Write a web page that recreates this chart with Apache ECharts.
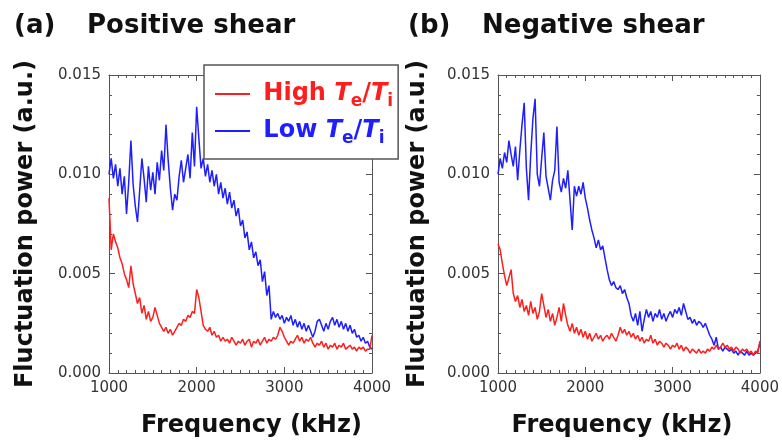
<!DOCTYPE html>
<html><head><meta charset="utf-8">
<script src="https://cdn.jsdelivr.net/npm/echarts@6/dist/echarts.min.js"></script>
<style>html,body{margin:0;padding:0;background:#fff;}#c{width:782px;height:443px;}</style>
</head><body><div id="c"></div>
<script>
// Frequency grid (kHz)
const freq = [1000,1025,1050,1075,1100,1125,1150,1175,1200,1225,1250,1275,1300,1325,1350,1375,1400,1425,1450,1475,
1500,1525,1550,1575,1600,1625,1650,1675,1700,1725,1750,1775,1800,1825,1850,1875,1900,1925,1950,1975,
2000,2025,2050,2075,2100,2125,2150,2175,2200,2225,2250,2275,2300,2325,2350,2375,2400,2425,2450,2475,
2500,2525,2550,2575,2600,2625,2650,2675,2700,2725,2750,2775,2800,2825,2850,2875,2900,2925,2950,2975,
3000,3025,3050,3075,3100,3125,3150,3175,3200,3225,3250,3275,3300,3325,3350,3375,3400,3425,3450,3475,
3500,3525,3550,3575,3600,3625,3650,3675,3700,3725,3750,3775,3800,3825,3850,3875,3900,3925,3950,3975,4000];

// (a) Positive shear
const posLow = [0.0100,0.0108,0.0098,0.0105,0.0094,0.0103,0.0090,0.0099,0.0080,0.0096,
0.0117,0.0095,0.0084,0.0076,0.0092,0.0108,0.0098,0.0086,0.0104,0.0092,
0.0101,0.0090,0.0106,0.0097,0.0112,0.0102,0.0125,0.0107,0.0093,0.0082,
0.0090,0.0087,0.0099,0.0107,0.0096,0.0103,0.0110,0.0098,0.0121,0.0104,
0.0134,0.0118,0.0103,0.0108,0.0099,0.0105,0.0096,0.0102,0.0094,0.0100,
0.0090,0.0096,0.0088,0.0093,0.0085,0.0091,0.0083,0.0087,0.0079,0.0083,
0.0074,0.0077,0.0068,0.0071,0.0062,0.0066,0.0058,0.0061,0.0054,0.0057,
0.0046,0.0051,0.0039,0.0044,0.0027,0.0031,0.0028,0.0030,0.0027,0.0029,
0.0025,0.0028,0.0026,0.0029,0.0024,0.0027,0.0023,0.0026,0.0022,0.0025,
0.0021,0.0024,0.0021,0.0018,0.0021,0.0026,0.0027,0.0024,0.0021,0.0025,
0.0022,0.0026,0.0028,0.0024,0.0027,0.0023,0.0026,0.0022,0.0025,0.0021,
0.0024,0.0020,0.0022,0.0018,0.0019,0.0016,0.0018,0.0015,0.0016,0.0013,0.0012];
const posHigh = [0.0088,0.0062,0.0070,0.0066,0.0063,0.0058,0.0055,0.0050,0.0047,0.0043,
0.0054,0.0045,0.0040,0.0035,0.0038,0.0030,0.0034,0.0027,0.0031,0.0026,
0.0028,0.0033,0.0029,0.0025,0.0023,0.0021,0.0023,0.0020,0.0022,0.0019,
0.0021,0.0023,0.0025,0.0024,0.0027,0.0026,0.0029,0.0028,0.0031,0.0030,
0.0042,0.0038,0.0031,0.0024,0.0022,0.0021,0.0023,0.0019,0.0021,0.0018,
0.0019,0.0016,0.0018,0.0016,0.0017,0.0015,0.0018,0.0016,0.0014,0.0016,
0.0015,0.0017,0.0014,0.0016,0.0017,0.0013,0.0016,0.0015,0.0017,0.0014,
0.0016,0.0018,0.0015,0.0017,0.0016,0.0018,0.0017,0.0019,0.0023,0.0021,
0.0018,0.0016,0.0014,0.0016,0.0015,0.0017,0.0019,0.0016,0.0018,0.0015,
0.0017,0.0016,0.0018,0.0015,0.0013,0.0015,0.0014,0.0016,0.0013,0.0015,
0.0012,0.0014,0.0013,0.0015,0.0012,0.0014,0.0013,0.0015,0.0012,0.0013,
0.0014,0.0012,0.0013,0.0011,0.0013,0.0012,0.0013,0.0011,0.0012,0.0012,0.0019];

// (b) Negative shear
const negLow = [0.0100,0.0108,0.0103,0.0111,0.0106,0.0117,0.0110,0.0104,0.0114,0.0097,
0.0112,0.0125,0.0136,0.0103,0.0087,0.0110,0.0128,0.0138,0.0100,0.0094,
0.0108,0.0121,0.0099,0.0093,0.0087,0.0097,0.0102,0.0124,0.0096,0.0091,
0.0098,0.0093,0.0102,0.0087,0.0072,0.0094,0.0089,0.0094,0.0090,0.0096,
0.0088,0.0083,0.0077,0.0072,0.0068,0.0063,0.0067,0.0062,0.0064,0.0058,
0.0052,0.0047,0.0044,0.0046,0.0043,0.0042,0.0044,0.0040,0.0042,0.0038,
0.0035,0.0029,0.0026,0.0030,0.0024,0.0031,0.0021,0.0027,0.0032,0.0028,
0.0031,0.0026,0.0030,0.0028,0.0032,0.0027,0.0030,0.0026,0.0029,0.0031,
0.0028,0.0032,0.0030,0.0033,0.0029,0.0035,0.0031,0.0027,0.0028,0.0025,
0.0027,0.0024,0.0026,0.0025,0.0023,0.0025,0.0022,0.0019,0.0017,0.0014,
0.0018,0.0012,0.0013,0.0011,0.0013,0.0012,0.0011,0.0012,0.0010,0.0011,
0.0009,0.0011,0.0010,0.0009,0.0011,0.0009,0.0010,0.0009,0.0010,0.0011,0.0015];
const negHigh = [0.0065,0.0062,0.0055,0.0049,0.0044,0.0048,0.0052,0.0040,0.0036,0.0039,
0.0033,0.0037,0.0031,0.0034,0.0029,0.0036,0.0030,0.0033,0.0027,0.0031,
0.0040,0.0034,0.0028,0.0032,0.0026,0.0030,0.0024,0.0028,0.0033,0.0026,
0.0035,0.0029,0.0024,0.0021,0.0025,0.0020,0.0023,0.0019,0.0022,0.0018,
0.0021,0.0017,0.0020,0.0016,0.0018,0.0020,0.0017,0.0019,0.0016,0.0018,
0.0019,0.0017,0.0020,0.0018,0.0016,0.0019,0.0023,0.0020,0.0022,0.0019,
0.0021,0.0018,0.0020,0.0017,0.0019,0.0016,0.0018,0.0015,0.0017,0.0016,
0.0019,0.0015,0.0017,0.0014,0.0016,0.0015,0.0013,0.0015,0.0014,0.0012,
0.0014,0.0013,0.0015,0.0012,0.0014,0.0011,0.0013,0.0012,0.0010,0.0012,
0.0011,0.0010,0.0012,0.0010,0.0011,0.0010,0.0012,0.0011,0.0013,0.0012,
0.0014,0.0012,0.0013,0.0015,0.0013,0.0014,0.0012,0.0013,0.0011,0.0013,
0.0012,0.0010,0.0012,0.0011,0.0012,0.0010,0.0011,0.0009,0.0011,0.0010,0.0016];

const seriesNames = ['High Te/Ti', 'Low Te/Ti'];
const panelTitles = ['Positive shear', 'Negative shear'];
const panelTags = ['(a)', '(b)'];
const xName = 'Frequency (kHz)';
const yName = 'Fluctuation power (a.u.)';

const RED = '#ff1e1e', BLUE = '#1e1eff';
const FONT = 'DejaVu Sans';
const AX = '#555';

const chart = echarts.init(document.getElementById('c'));

const grids = [
  {left: 109, top: 75, width: 263, height: 298},
  {left: 498, top: 75, width: 262, height: 299}
];
const xNamePad = [[0,0,0,22],[0,14,0,0]];
const yNameGap = [71, 68];

const xAxes = [], yAxes = [];
grids.forEach((g, gi) => {
  const tick = {show: true, inside: true, length: 6, lineStyle: {color: AX, width: 1}};
  const base = {gridIndex: gi, type: 'value', min: 1000, max: 4000, interval: 1000,
    axisLine: {show: true, onZero: false, lineStyle: {color: AX, width: 1}},
    axisTick: tick,
    minorTick: {show: true, splitNumber: 10, length: 3, lineStyle: {color: AX, width: 1}},
    splitLine: {show: false}, minorSplitLine: {show: false}};
  xAxes.push(Object.assign({}, base, {position: 'bottom',
    axisLabel: {show: true, margin: 8, fontFamily: FONT, fontSize: 15, color: '#333',
      showMinLabel: true, showMaxLabel: true, formatter: v => String(v)},
    name: xName, nameLocation: 'middle', nameGap: 41,
    nameTextStyle: {fontFamily: FONT, fontWeight: 'bold', fontSize: 24, color: '#111', padding: xNamePad[gi]}}));
  xAxes.push(Object.assign({}, base, {position: 'top', axisLabel: {show: false}}));
  const ybase = {gridIndex: gi, type: 'value', min: 0, max: 0.015, interval: 0.005,
    axisLine: {show: true, onZero: false, lineStyle: {color: AX, width: 1}},
    axisTick: tick,
    minorTick: {show: true, splitNumber: 5, length: 3, lineStyle: {color: AX, width: 1}},
    splitLine: {show: false}, minorSplitLine: {show: false}};
  yAxes.push(Object.assign({}, ybase, {position: 'left',
    axisLabel: {show: true, margin: 8, fontFamily: FONT, fontSize: 15, color: '#333',
      showMinLabel: true, showMaxLabel: true, formatter: v => v.toFixed(3)},
    name: yName, nameLocation: 'middle', nameGap: yNameGap[gi], nameRotate: 90,
    nameTextStyle: {fontFamily: FONT, fontWeight: 'bold', fontSize: 24, color: '#111'}}));
  yAxes.push(Object.assign({}, ybase, {position: 'right', axisLabel: {show: false}}));
});

function mk(name, vals, gi, color) {
  return {name: name, type: 'line', xAxisIndex: gi * 2, yAxisIndex: gi * 2,
    data: freq.map((f, i) => [f, vals[i]]), symbol: 'none', showSymbol: false,
    lineStyle: {color: color, width: 1.5}, itemStyle: {color: color},
    emphasis: {disabled: true}, animation: false, z: 2};
}

function rich(color) {
  return {
    m: {fontFamily: FONT, fontSize: 24, fontWeight: 'bold', color: color, lineHeight: 32},
    it: {fontFamily: FONT, fontSize: 24, fontWeight: 'bold', fontStyle: 'italic', color: color, lineHeight: 32},
    s: {fontFamily: FONT, fontSize: 17, fontWeight: 'bold', color: color, lineHeight: 12, verticalAlign: 'bottom'}
  };
}

const titleStyle = {fontFamily: FONT, fontWeight: 'bold', fontSize: 26, color: '#111'};

chart.setOption({
  animation: false,
  backgroundColor: '#fff',
  title: [
    {text: panelTags[0], left: 14, top: 13, padding: 0, textStyle: titleStyle},
    {text: panelTitles[0], left: 87, top: 13, padding: 0, textStyle: titleStyle},
    {text: panelTags[1], left: 408, top: 13, padding: 0, textStyle: titleStyle},
    {text: panelTitles[1], left: 482, top: 13, padding: 0, textStyle: titleStyle}
  ],
  grid: grids,
  xAxis: xAxes,
  yAxis: yAxes,
  legend: {
    left: 204, top: 65, orient: 'vertical', selectedMode: false,
    padding: [17, 5, 12, 11], itemGap: 9, itemWidth: 35, itemHeight: 2, icon: 'rect',
    backgroundColor: '#fff', borderColor: '#555', borderWidth: 1.5, borderRadius: 0, z: 10,
    data: [
      {name: seriesNames[0], textStyle: {rich: rich(RED)}},
      {name: seriesNames[1], textStyle: {rich: rich(BLUE)}}
    ],
    formatter: name => (name === seriesNames[0] ? '{m| High }' : '{m| Low }') + '{it|T}{s|e}{m|/}{it|T}{s|i}',
    textStyle: {fontFamily: FONT, fontSize: 24, fontWeight: 'bold'}
  },
  series: [
    mk(seriesNames[1], posLow, 0, BLUE),
    mk(seriesNames[0], posHigh, 0, RED),
    mk(seriesNames[1], negLow, 1, BLUE),
    mk(seriesNames[0], negHigh, 1, RED)
  ]
});
</script></body></html>
